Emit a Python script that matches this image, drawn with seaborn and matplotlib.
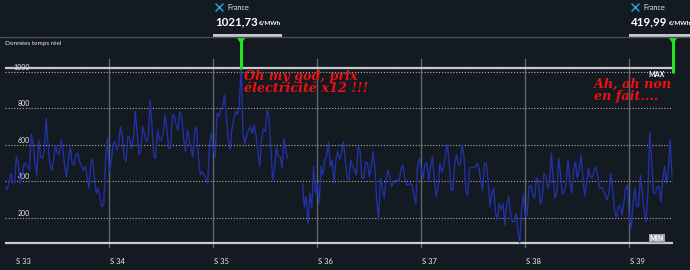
import numpy as np
import pandas as pd
import matplotlib
matplotlib.use("Agg")
import matplotlib.pyplot as plt
import seaborn as sns
from matplotlib.lines import Line2D
from matplotlib.patches import Polygon, Rectangle

# ---------------- data (3-hour steps, €/MWh) ----------------
weeks = ["S 33", "S 34", "S 35", "S 36", "S 37", "S 38", "S 39"]
area = "France"
header_left = "Données temps réel"
note_peak = "Oh my god, prix\nélectricité x12 !!!"
note_end = "Ah, ah non\nen fait...."
ytick_vals = [200, 400, 600, 800, 1000]

nan = np.nan
s33 = [368, 357, 399, 444, 393, 393, 535, 499, 390, 426, 490, 499, 477, 462, 659, 608, 499, 435, 627, 535,
       526, 572, 745, 599, 490, 462, 517, 599, 554, 544, 627, 572, 481, 426, 517, 586, 499, 490, 544, 554,
       508, 484, 462, 481, 435, 362, 490, 526, 408, 335, 362, 308, 262, 280, 517, 636]
s34 = [453, 499, 599, 617, 572, 599, 699, 645, 535, 508, 645, 636, 581, 636, 781, 663, 544, 572, 699, 654,
       617, 645, 845, 699, 535, 526, 681, 626, 626, 663, 763, 681, 581, 581, 763, 763, 708, 681, 781, 754,
       636, 563, 681, 636, 575, 535, 681, 699, 526, 435, 453, 435, 417, 390, 608, 663]
s35 = [572, 535, 772, 754, 790, 809, 872, 754, 636, 572, 681, 745, 781, 763, 818, 1021.73, 663, 608, 654, 681,
       699, 663, 708, 654, 563, 484, 636, 685, 672, 790, 745, 581, 408, 471, 586, 535, 535, 471, 636, 572,
       526, nan, nan, nan, nan, nan, nan, nan, 390, 262, 317, 171, 335, 253, 481, 335]
s36 = [390, 280, 481, 435, 517, 535, 617, 481, 517, 390, 517, 563, 521, 554, 617, 526, 426, 408, 517, 481,
       462, 435, 590, 572, 417, 417, 508, 499, 426, 471, 563, 471, 299, 189, 417, 371, 308, 408, 462, 426,
       371, 390, 408, 408, 399, 462, 490, 430, 381, 381, 390, 381, 326, 280, 490, 526]
s37 = [462, 417, 499, 499, 399, 481, 535, 408, 317, 371, 499, 453, 481, 544, 605, 499, 353, 353, 499, 544,
       490, 490, 599, 535, 344, 326, 471, 477, 477, 477, 499, 471, 404, 353, 499, 499, 399, 262, 335, 362,
       226, 189, 280, 244, 280, 162, 271, 317, 226, 180, 180, 226, 125, 65, 244, 331]
s38 = [208, 217, 371, 380, 326, 308, 417, 408, 277, 299, 444, 435, 362, 386, 554, 417, 308, 344, 526, 435,
       330, 344, 390, 521, 399, 339, 459, 508, 417, 466, 544, 417, 321, 390, 471, 426, 417, 453, 481, 426,
       362, 367, 350, 330, 298, 335, 444, 362, 244, 198, 262, 271, 217, 280, 362, 380]
s39 = [189, 144, 280, 367, 262, 262, 435, 335, 235, 180, 335, 672, 517, 335, 335, 371, 371, 289, 408, 481,
       390, 462, 630, 419.99]

price = s33 + s34 + s35 + s36 + s37 + s38 + s39
step_days = 0.125
t = np.arange(len(price)) * step_days

df = pd.DataFrame({"t": t, "price": price})
df["seg"] = df["price"].isna().cumsum()
d = df.dropna()

vmax = float(d["price"].max())
vmin = float(d["price"].min())
t_max = float(d.loc[d["price"].idxmax(), "t"])
t_last = float(d["t"].iloc[-1])
v_last = float(d["price"].iloc[-1])

# ---------------- style ----------------
BG = "#141a21"
LINE = "#2231a3"
GRID = "#5f656d"
DOT = "#aeb2b7"
TXT = "#e8eaec"
RED = "#f01010"
GREEN = "#22e31f"

sns.set_theme(style="dark", rc={"axes.facecolor": BG, "figure.facecolor": BG})
plt.rcParams["font.family"] = ["Lato", "DejaVu Sans"]

W, H = 690, 270
fig = plt.figure(figsize=(W / 100, H / 100), dpi=100)
fig.patch.set_facecolor(BG)

def fx(px):
    return px / W

def fy(py):
    return 1 - py / H

ax = fig.add_axes([fx(5.3), 22 / H, (673 - 5.3) / W, 189 / H])
ax.set_facecolor(BG)

sns.lineplot(data=d, x="t", y="price", units="seg", estimator=None,
             color=LINE, lw=1.0, ax=ax, legend=False, zorder=4)

ax.set_xlim(0, 44.94)
ax.set_ylim(36.1, 1068.8)
for s in ax.spines.values():
    s.set_visible(False)
ax.set_xticks([])
ax.set_yticks([])
ax.set_xlabel("")
ax.set_ylabel("")

# vertical week lines
for i in range(1, len(weeks)):
    ax.axvline(7 * i, color=GRID, lw=1.0, zorder=1)

# dotted horizontal grid + labels
for v in ytick_vals:
    ax.axhline(v, color=DOT, lw=0.8, ls=(0, (1, 1.6)), zorder=2)
    ax.annotate(str(v), xy=(0, v), xycoords=("axes fraction", "data"),
                xytext=(25, 4.5), textcoords="offset pixels",
                ha="right", va="center", fontsize=5, color=TXT, zorder=2)

# MAX / MIN lines
ax.axhline(vmax, color="#c9cbce", lw=1.6, zorder=3)
ax.axhline(vmin, color="#c9cbce", lw=1.6, zorder=3)
ax.annotate("MAX", xy=(1, vmax), xycoords=("axes fraction", "data"),
            xytext=(-8, -6.5), textcoords="offset pixels",
            ha="right", va="center", fontsize=5, color="white", fontweight="bold", zorder=6)
ax.annotate("MIN", xy=(1, vmin), xycoords=("axes fraction", "data"),
            xytext=(-9, 4.5), textcoords="offset pixels",
            ha="right", va="center", fontsize=5, color="white", fontweight="bold", zorder=6,
            bbox=dict(boxstyle="square,pad=0.15", fc="#9ea2a7", ec="none"))

# week labels
for i, w in enumerate(weeks):
    off = 11 if i == 0 else 1
    ax.annotate(w, xy=(7 * i, 0), xycoords=("data", "axes fraction"),
                xytext=(off, -13), textcoords="offset pixels",
                ha="left", va="center", fontsize=5.5, color=TXT, annotation_clip=False)

# red notes
ax.annotate(note_peak, xy=(t_max, vmax), xycoords="data",
            xytext=(3, -2), textcoords="offset pixels", ha="left", va="top",
            fontsize=9.2, color=RED, family="DejaVu Serif", fontweight="bold",
            style="italic", linespacing=0.98, zorder=7)
ax.annotate(note_end, xy=(t_last, vmax), xycoords="data",
            xytext=(-78, -10), textcoords="offset pixels", ha="left", va="top",
            fontsize=9.2, color=RED, family="DejaVu Serif", fontweight="bold",
            style="italic", linespacing=0.98, zorder=7, annotation_clip=False)

# ---------------- header ----------------
fig.add_artist(Line2D([0, 1], [fy(37), fy(37)], transform=fig.transFigure, color="#4a5058", lw=1.0))
fig.text(fx(5), fy(43.5), header_left, fontsize=4.6, color=TXT, ha="left", va="center")

def fmt(v):
    return f"{v:.2f}".replace(".", ",")

def tooltip(x0, x1, value):
    fig.add_artist(Rectangle((fx(x0), fy(36.5)), fx(x1) - fx(x0), 2.3 / H,
                             transform=fig.transFigure, fc="#c4c6c9", ec="none"))
    fig.add_artist(Line2D([fx(x0 + 5.8)], [fy(7.3)], transform=fig.transFigure, marker="x",
                          ms=5.5, mew=1.0, color="#2aa6df", ls="none"))
    fig.text(fx(x0 + 14), fy(7.3), area, fontsize=5.3, color=TXT, ha="left", va="center")
    tv = fig.text(fx(x0 + 2), fy(21.5), fmt(value), fontsize=8.3, color="white",
                  fontweight="bold", ha="left", va="center")
    fig.canvas.draw()
    bb = tv.get_window_extent()
    fig.text((bb.x1 + 1) / W, fy(22.6), "€/MWh", fontsize=4.4, color="white",
             fontweight="bold", ha="left", va="center")

def pin(xp, ybot):
    fig.add_artist(Polygon([(fx(xp - 4.5), fy(37.5)), (fx(xp + 4.5), fy(37.5)), (fx(xp), fy(44))],
                           closed=True, transform=fig.transFigure, fc=GREEN, ec="none"))
    fig.add_artist(Line2D([fx(xp), fx(xp)], [fy(40), fy(ybot)], transform=fig.transFigure,
                          color=GREEN, lw=2.2, solid_capstyle="butt"))

xp1, yp1 = ax.transData.transform((t_max, vmax))
xp2, _ = ax.transData.transform((t_last, v_last))
tooltip(xp1 - 28, xp1 + 41, vmax)
tooltip(629, 690, v_last)
pin(xp1, H - yp1 + 1)
pin(xp2 + 1, H - yp1 + 5)

fig.savefig("out.png", dpi=100, facecolor=BG)
